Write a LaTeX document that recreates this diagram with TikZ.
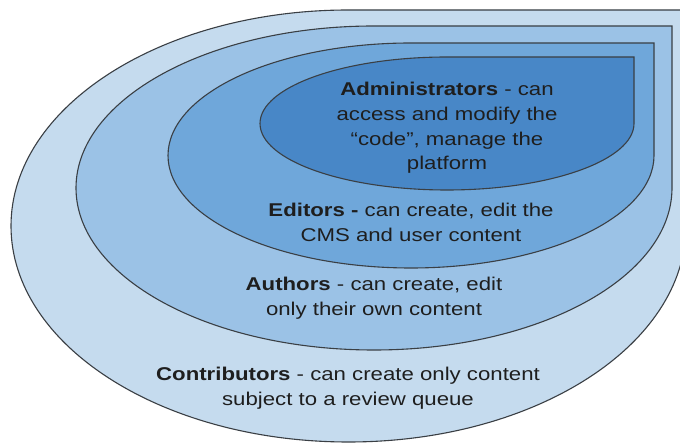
\documentclass[tikz,border=0pt]{standalone}
\usepackage{fontspec}
\setmainfont[FakeStretch=1.2]{Liberation Sans}

\definecolor{contribfill}{HTML}{C5DBEE}
\definecolor{authorfill}{HTML}{9BC2E6}
\definecolor{editorfill}{HTML}{6FA7DA}
\definecolor{adminfill}{HTML}{4887C7}
\definecolor{rimgray}{HTML}{3A3F44}
\definecolor{inkgray}{HTML}{1E1E1E}

% teardrop: centre x, centre y, x radius, y radius, fill colour
\newcommand{\teardrop}[5]{%
	\filldraw[fill=#5, draw=rimgray, line width=1.1pt, line join=miter]
		(#1+#3,#2) -- (#1+#3,#2+#4) -- (#1,#2+#4)
		arc[start angle=90, end angle=360, x radius=#3, y radius=#4] -- cycle;}

\begin{document}
\begin{tikzpicture} [x=1pt, y=1pt, role/.style={align=center, text=inkgray, inner sep=0pt, font=\fontsize{18.5}{24.7}\selectfont}]

\useasboundingbox (0,0) rectangle (680,444);
\fill[white] (0,0) rectangle (680,444);
\clip (0,0) rectangle (680,444);

\teardrop{348.5}{218}{337.5}{216}{contribfill}
\teardrop{374}{256}{298}{162}{authorfill}
\teardrop{411}{288.5}{243}{112.5}{editorfill}
\teardrop{447}{320.5}{187}{66.5}{adminfill}

\node[role] (admins)		at (447,316)		{\textbf{Administrators} - can \\ access and modify the \\ “code”, manage the \\ platform};
\node[role] (editors)		at (411,221.5)	{\textbf{Editors -} can create, edit the \\ CMS and user content};
\node[role] (authors)		at (374,146)		{\textbf{Authors} - can create, edit \\ only their own content};
\node[role] (contributors)	at (348,56)		{\textbf{Contributors} - can create only content \\ subject to a review queue};

\end{tikzpicture}
\end{document}
